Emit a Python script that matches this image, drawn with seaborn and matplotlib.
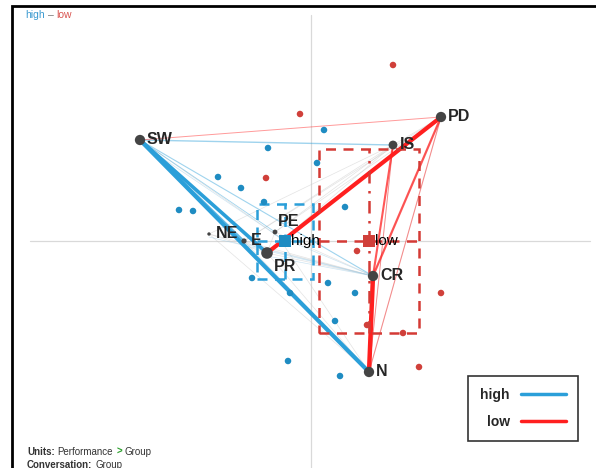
import matplotlib
matplotlib.use("Agg")
import matplotlib.pyplot as plt
from matplotlib.patches import Rectangle
from matplotlib.lines import Line2D
import pandas as pd
import seaborn as sns

sns.set_style("white")
plt.rcParams['font.family'] = ['Liberation Sans', 'DejaVu Sans']

# nodes (codes) of the network
node_names = ["SW", "PD", "IS", "CR", "N", "PR", "E", "NE", "PE"]
node_x = [-1.71, 1.30, 0.82, 0.62, 0.58, -0.44, -0.67, -1.02, -0.36]
node_y = [1.01, 1.24, 0.96, -0.35, -1.31, -0.12, 0.00, 0.07, 0.09]
node_size = [55, 55, 40, 55, 55, 70, 14, 6, 12]

# group centroids and spread
groups = ["high", "low"]
group_x = [-0.26, 0.58]
group_y = [0.00, 0.00]
group_sdx = [0.28, 0.50]
group_sdy = [0.375, 0.92]

# unit points
high_x = [0.13, -0.43, 0.06, -0.93, -0.70, -0.47, -1.32, -1.18, 0.34, -0.59, 0.17, -0.21, 0.44, 0.24, -0.23, 0.29]
high_y = [1.11, 0.93, 0.78, 0.64, 0.53, 0.39, 0.31, 0.30, 0.34, -0.37, -0.42, -0.52, -0.52, -0.80, -1.20, -1.35]
low_x = [0.82, -0.11, -0.45, 0.46, 1.30, 0.56, 0.92, 1.08]
low_y = [1.76, 1.27, 0.63, -0.10, -0.52, -0.84, -0.92, -1.26]

# network edges (group, weight)
edge_from = ["SW", "SW", "SW", "SW", "SW", "SW", "PR", "CR", "PD", "IS", "PD", "IS", "SW"]
edge_to = ["N", "PR", "E", "CR", "IS", "PE", "PD", "N", "CR", "CR", "N", "N", "PD"]
edge_group = ["high", "high", "high", "high", "high", "high", "low", "low", "low", "low", "low", "low", "low"]
edge_weight = [3.0, 2.6, 1.4, 0.8, 1.0, 0.6, 3.0, 3.2, 1.6, 1.5, 0.8, 0.7, 0.7]

# faint background edges
faint_pairs = [("SW", "high"), ("NE", "CR"), ("E", "CR"), ("PE", "CR"), ("PR", "CR"),
               ("NE", "IS"), ("E", "IS"), ("PE", "IS"), ("PE", "PD"), ("E", "PD"), ("NE", "N"),
               ("E", "N"), ("PR", "N"), ("PE", "N"), ("PD", "N"), ("IS", "N"), ("PD", "IS"),
               ("PR", "IS"), ("E", "PR"), ("NE", "PR"), ("PE", "PR"), ("CR", "PD")]

blue = "#2b9fd9"
red = "#ff1f1f"
blue_pt = "#1f8cc2"
red_pt = "#d0403a"

pos = {n: (x, y) for n, x, y in zip(node_names, node_x, node_y)}
for g, x, y in zip(groups, group_x, group_y):
    pos[g] = (x, y)

fig = plt.figure(figsize=(5.96, 4.68), dpi=100)
ax = fig.add_axes([0, 0, 1, 1])
ax.set_xlim(-3.11, 2.85)
ax.set_ylim(-2.27, 2.41)
ax.axis("off")

# reference axes
ax.plot([-2.81, 2.79], [0, 0], color="#d9d9d9", lw=0.9, zorder=0)
ax.plot([0, 0], [-2.3, 2.26], color="#d9d9d9", lw=0.9, zorder=0)

for a, b in faint_pairs:
    ax.plot([pos[a][0], pos[b][0]], [pos[a][1], pos[b][1]], color="#c8c8c8", lw=0.5, alpha=0.5, zorder=1)
for a, b in faint_pairs[:5]:
    ax.plot([pos[a][0], pos[b][0]], [pos[a][1] - 0.03, pos[b][1]], color="#9ccbe6", lw=0.5, alpha=0.5, zorder=1)

for a, b, g, w in zip(edge_from, edge_to, edge_group, edge_weight):
    col = blue if g == "high" else red
    alpha = 1.0 if w >= 2.5 else (0.75 if w >= 1.2 else 0.45)
    ax.plot([pos[a][0], pos[b][0]], [pos[a][1], pos[b][1]], color=col, lw=w, alpha=alpha,
            solid_capstyle="round", zorder=2)

# group spread boxes
for g, x, y, sx, sy in zip(groups, group_x, group_y, group_sdx, group_sdy):
    col = blue if g == "high" else "#d43a35"
    ax.add_patch(Rectangle((x - sx, y - sy), 2 * sx, 2 * sy, fill=False, ec=col, lw=1.8,
                           ls=(0, (4, 3)), zorder=3))
    ax.plot([x, x], [y - sy, y + sy], color=col, lw=1.8, ls=(0, (5, 3, 1, 3)) if g == "low" else (0, (4, 3)), zorder=3)
    ax.plot([x - sx, x + sx], [y, y], color=col, lw=1.8, ls=(0, (4, 3)), zorder=3)

# unit points
pts = pd.DataFrame({
    "x": high_x + low_x,
    "y": high_y + low_y,
    "group": ["high"] * len(high_x) + ["low"] * len(low_x),
})
sns.scatterplot(data=pts, x="x", y="y", hue="group", palette={"high": blue_pt, "low": red_pt},
                s=22, edgecolor="none", legend=False, ax=ax, zorder=4)

# centroids
cent = pd.DataFrame({"x": group_x, "y": group_y, "group": groups})
sns.scatterplot(data=cent, x="x", y="y", hue="group", palette={"high": blue_pt, "low": "#d0403a"},
                marker="s", s=70, edgecolor="none", legend=False, ax=ax, zorder=5)
for g, x, y in zip(groups, group_x, group_y):
    ax.text(x + 0.06, y, g, fontsize=11, va="center", ha="left", color="black", zorder=6)

# nodes
nodes = pd.DataFrame({"x": node_x, "y": node_y, "name": node_names, "s": node_size})
sns.scatterplot(data=nodes, x="x", y="y", size="s", sizes=(min(node_size), max(node_size)),
                color="#444444", edgecolor="none", legend=False, ax=ax, zorder=6)
label_off = {"PR": (0.07, -0.06, "top"), "PE": (0.03, 0.03, "bottom")}
for n, x, y in zip(node_names, node_x, node_y):
    dx, dy, va = label_off.get(n, (0.07, 0.0, "center"))
    ax.text(x + dx, y + dy, n, fontsize=11.5, fontweight="bold", va=va, ha="left", zorder=7)

# legend
handles = [Line2D([], [], color=blue, lw=2.5), Line2D([], [], color=red, lw=2.5)]
leg = ax.legend(handles, groups, loc="lower right", bbox_to_anchor=(578 / 596, 27 / 468),
                borderaxespad=0, markerfirst=False, frameon=True, fancybox=False,
                handlelength=3.2, borderpad=0.9, labelspacing=0.9, handletextpad=0.8,
                prop={"weight": "bold", "size": 10})
leg.get_frame().set_edgecolor("black")
leg.get_frame().set_linewidth(1.2)

# outer frame
fig.patches.append(Rectangle((12 / 596, -0.05), 1.1, (468 - 6) / 468 + 0.05, transform=fig.transFigure,
                             fill=False, ec="black", lw=2.0, zorder=10))


def text_run(x_px, y_px, pieces, size):
    # draw text pieces one after another on a line
    renderer = fig.canvas.get_renderer()
    x = x_px
    for s, col, wt in pieces:
        t = fig.text(x / 596, 1 - y_px / 468, s, color=col, fontsize=size, fontweight=wt, va="center")
        x = x + t.get_window_extent(renderer).width + 3


text_run(25, 15, [("high", "#3a9ad0", "normal"), ("–", "#777777", "normal"), ("low", "#d9534f", "normal")], 7.5)
text_run(27, 452, [("Units:", "#333333", "bold"), ("Performance", "#333333", "normal"),
                   (">", "#2ca02c", "bold"), ("Group", "#333333", "normal")], 7)
text_run(27, 465, [("Conversation:", "#333333", "bold"), ("Group", "#333333", "normal")], 7)

fig.savefig("out.png", dpi=100)
